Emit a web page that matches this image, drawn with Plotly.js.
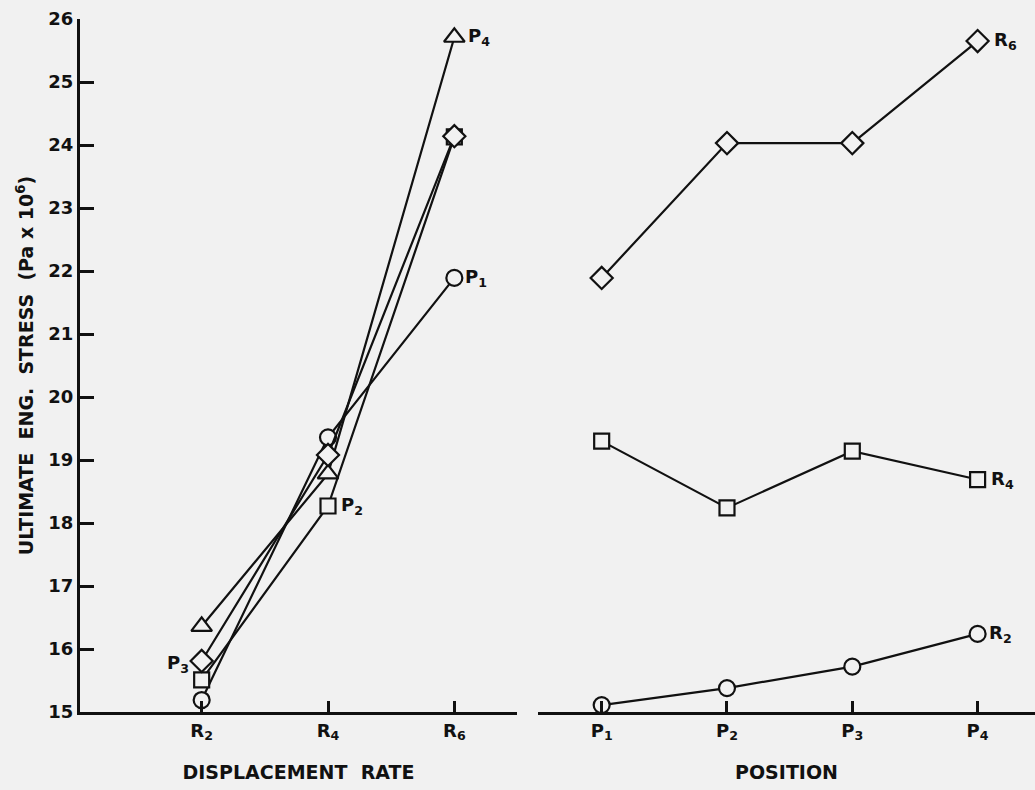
<!DOCTYPE html>
<html>
<head>
<meta charset="utf-8">
<script src="https://cdn.plot.ly/plotly-3.0.1.min.js"></script>
<style>html,body{margin:0;padding:0;background:#f1f1f1;}</style>
</head>
<body>
<div id="chart" style="width:1035px;height:790px;"></div>
<script>
// Categories
const rates = ['R2', 'R4', 'R6'];
const rateLabels = ['R<sub>2</sub>', 'R<sub>4</sub>', 'R<sub>6</sub>'];
const positions = ['P1', 'P2', 'P3', 'P4'];
const positionLabels = ['P<sub>1</sub>', 'P<sub>2</sub>', 'P<sub>3</sub>', 'P<sub>4</sub>'];

// Left panel: stress vs displacement rate, one series per position
const p1ByRate = [15.19, 19.36, 21.89];
const p2ByRate = [15.51, 18.27, 24.13];
const p3ByRate = [15.81, 19.08, 24.14];
const p4ByRate = [16.36, 18.78, 25.71];

// Right panel: stress vs position, one series per rate
const r2ByPos = [15.11, 15.38, 15.72, 16.24];
const r4ByPos = [19.30, 18.24, 19.14, 18.69];
const r6ByPos = [21.89, 24.03, 24.03, 25.65];

const yTicks = [15, 16, 17, 18, 19, 20, 21, 22, 23, 24, 25, 26];

const BG = '#f1f1f1';
const FONT = {family: 'DejaVu Sans, Arial, sans-serif', color: '#111', size: 18, weight: 'bold'};
const TITLE_FONT = {family: 'DejaVu Sans, Arial, sans-serif', color: '#111', size: 19, weight: 'bold'};

function trace(x, y, symbol, size, xa) {
  return {
    x: x, y: y, xaxis: xa, yaxis: 'y',
    type: 'scatter', mode: 'lines+markers', cliponaxis: false,
    line: {color: '#111', width: 2.2},
    marker: {symbol: symbol, size: size, color: BG, line: {color: '#111', width: 2.2}},
    hoverinfo: 'x+y', showlegend: false
  };
}

const data = [
  trace(rates, p1ByRate, 'circle', 16, 'x'),
  trace(rates, p2ByRate, 'square', 15, 'x'),
  trace(rates, p4ByRate, 'triangle-up', 18, 'x'),
  trace(rates, p3ByRate, 'diamond', 17, 'x'),
  trace(positions, r2ByPos, 'circle', 16, 'x2'),
  trace(positions, r4ByPos, 'square', 15, 'x2'),
  trace(positions, r6ByPos, 'diamond', 17, 'x2')
];

const labelFont = {family: FONT.family, color: '#111', size: 18, weight: 'bold'};
function label(text, x, y, xa, anchor, xshift, yshift) {
  return {text: text, x: x, y: y, xref: xa, yref: 'y', showarrow: false,
          xanchor: anchor, yanchor: 'middle', xshift: xshift, yshift: yshift || 0, font: labelFont};
}

const annotations = [
  label(positionLabels[3], rates[2], p4ByRate[2], 'x', 'left', 12, 0),
  label(positionLabels[0], rates[2], p1ByRate[2], 'x', 'left', 9, 0),
  label(positionLabels[1], rates[1], p2ByRate[1], 'x', 'left', 11, 0),
  label(positionLabels[2], rates[0], p3ByRate[0], 'x', 'right', -11, -3),
  label(rateLabels[2], positions[3], r6ByPos[3], 'x2', 'left', 14, 0),
  label(rateLabels[1], positions[3], r4ByPos[3], 'x2', 'left', 11, 0),
  label(rateLabels[0], positions[3], r2ByPos[3], 'x2', 'left', 9, 0)
];

const xCommon = {
  type: 'category', showline: true, linecolor: '#111', linewidth: 3,
  ticks: 'inside', ticklen: 11, tickwidth: 3, tickcolor: '#111',
  showgrid: false, zeroline: false, tickfont: FONT, anchor: 'y',
  automargin: false
};

const layout = {
  width: 1035, height: 790,
  paper_bgcolor: BG, plot_bgcolor: 'rgba(0,0,0,0)',
  margin: {l: 80, r: 0, t: 19, b: 78},
  font: FONT,
  showlegend: false,
  xaxis: Object.assign({}, xCommon, {
    domain: [0, 0.4576], range: [-0.963, 2.496],
    tickvals: rates, ticktext: rateLabels,
    title: {text: 'DISPLACEMENT  RATE', font: TITLE_FONT, standoff: 24}
  }),
  xaxis2: Object.assign({}, xCommon, {
    domain: [0.4796, 1], range: [-0.508, 3.458],
    tickvals: positions, ticktext: positionLabels,
    title: {text: 'POSITION', font: TITLE_FONT, standoff: 24}
  }),
  yaxis: {
    range: [15, 26], tickvals: yTicks,
    showline: true, linecolor: '#111', linewidth: 3,
    ticks: 'inside', ticklen: 14, tickwidth: 3, tickcolor: '#111',
    showgrid: false, zeroline: false, tickfont: FONT,
    anchor: 'x', automargin: false,
    title: {text: 'ULTIMATE  ENG.  STRESS  (Pa x 10<sup>6</sup>)', font: TITLE_FONT, standoff: 10}
  },
  annotations: annotations
};

Plotly.newPlot('chart', data, layout, {displayModeBar: false, staticPlot: true});
</script>
</body>
</html>
